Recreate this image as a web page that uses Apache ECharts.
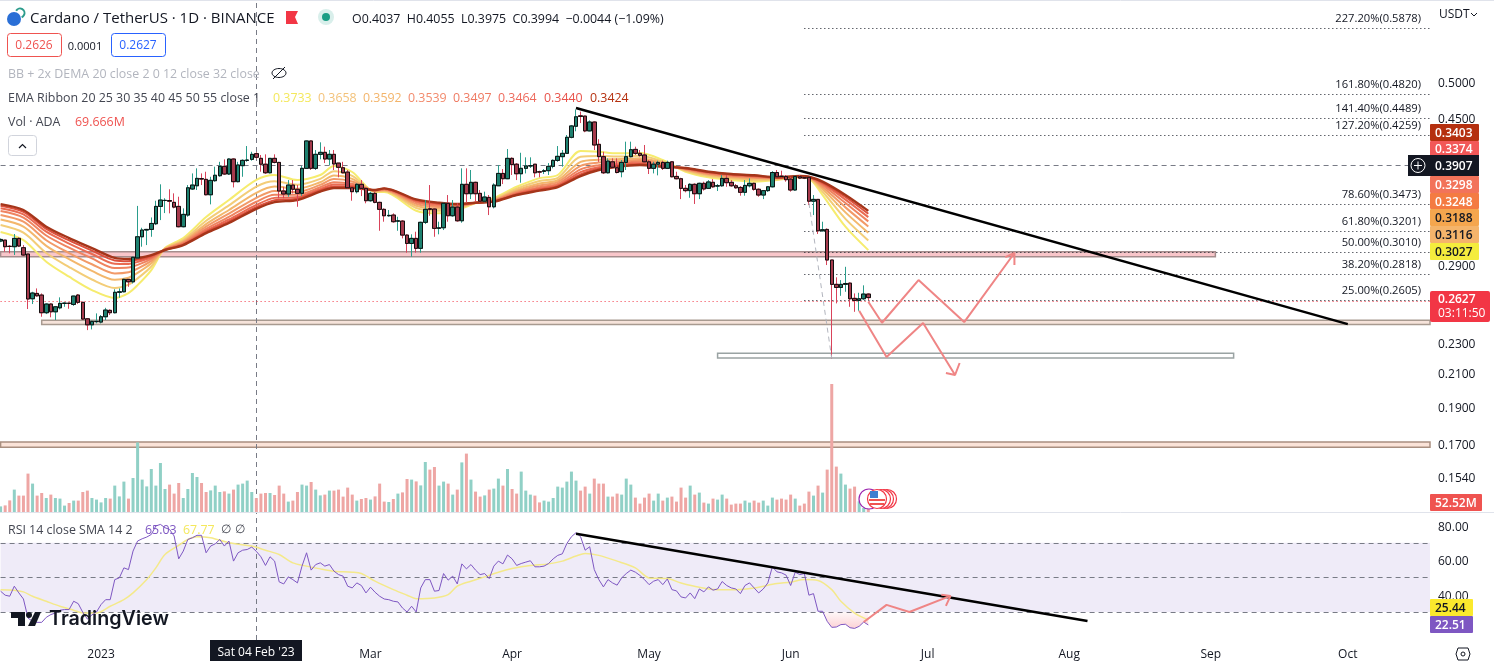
<!DOCTYPE html>
<html>
<head>
<meta charset="utf-8">
<title>Cardano / TetherUS</title>
<script src="https://cdn.jsdelivr.net/npm/echarts@6/dist/echarts.min.js"></script>
<style>
  html, body { margin: 0; padding: 0; background: #ffffff; }
  #main { width: 1494px; height: 661px; }
</style>
</head>
<body>
<div id="main"></div>
<script>
// daily candles, index 0 = 10 Dec 2022
const candleOpen = [
  .3110,.3119,.3062,.3058,.3135,.3049,.2992,.2618,.2660,.2647,
  .2511,.2577,.2518,.2548,.2582,.2584,.2574,.2647,.2590,.2466,
  .2422,.2445,.2442,.2481,.2529,.2511,.2669,.2673,.2774,.2754,
  .2957,.3150,.3214,.3220,.3275,.3449,.3510,.3510,.3491,.3449,
  .3246,.3361,.3633,.3668,.3748,.3739,.3571,.3724,.3780,.3887,
  .3799,.3973,.3713,.3895,.3957,.3969,.4037,.3981,.3912,.3813,
  .3981,.3933,.3611,.3579,.3676,.3630,.3586,.3864,.4193,.3864,
  .4029,.4053,.3973,.4029,.3925,.3871,.3821,.3646,.3604,.3684,
  .3640,.3508,.3586,.3491,.3419,.3354,.3361,.3300,.3301,.3166,
  .3088,.3135,.3043,.3289,.3425,.3422,.3230,.3236,.3481,.3354,
  .3442,.3304,.3684,.3582,.3706,.3586,.3503,.3543,.3445,.3668,
  .3806,.3746,.3981,.3912,.3802,.3864,.3891,.3912,.3825,.3829,
  .3837,.3887,.3957,.4001,.4041,.4239,.4381,.4520,.4516,.4321,
  .4437,.4151,.4001,.3813,.3940,.3871,.3825,.3933,.4001,.4089,
  .4041,.4021,.3940,.3864,.3912,.3933,.3864,.3940,.3772,.3746,
  .3640,.3615,.3684,.3582,.3695,.3640,.3706,.3665,.3668,.3750,
  .3706,.3668,.3650,.3597,.3668,.3695,.3630,.3568,.3615,.3657,
  .3816,.3775,.3772,.3742,.3622,.3768,.3757,.3762,.3503,.3522,
  .3207,.3220,.2939,.2733,.2708,.2733,.2743,.2621,.2605,.2618,
  .2655
];
const candleClose = [
  .3125,.3058,.3060,.3135,.3064,.2983,.2616,.2663,.2641,.2511,
  .2577,.2518,.2556,.2582,.2584,.2582,.2639,.2590,.2464,.2422,
  .2447,.2447,.2481,.2531,.2511,.2669,.2673,.2774,.2754,.2963,
  .3150,.3214,.3220,.3278,.3449,.3515,.3512,.3503,.3442,.3246,
  .3368,.3646,.3676,.3750,.3742,.3571,.3728,.3785,.3887,.3799,
  .3973,.3713,.3903,.3957,.3961,.4029,.3994,.3912,.3813,.3981,
  .3933,.3611,.3579,.3676,.3630,.3586,.3864,.4193,.3864,.4029,
  .4053,.3973,.4029,.3915,.3876,.3813,.3646,.3604,.3684,.3640,
  .3508,.3586,.3491,.3419,.3354,.3358,.3295,.3304,.3166,.3088,
  .3135,.3043,.3289,.3419,.3419,.3230,.3236,.3481,.3354,.3442,
  .3304,.3684,.3582,.3706,.3582,.3503,.3547,.3445,.3676,.3806,
  .3746,.3981,.3907,.3802,.3864,.3891,.3895,.3813,.3821,.3837,
  .3887,.3957,.4005,.4041,.4239,.4385,.4507,.4511,.4321,.4437,
  .4143,.4001,.3813,.3949,.3876,.3816,.3933,.4001,.4085,.4041,
  .4017,.3940,.3864,.3912,.3933,.3864,.3933,.3768,.3746,.3640,
  .3615,.3684,.3582,.3695,.3633,.3710,.3657,.3668,.3750,.3702,
  .3668,.3646,.3597,.3672,.3695,.3630,.3568,.3615,.3657,.3816,
  .3768,.3772,.3735,.3622,.3772,.3753,.3753,.3503,.3522,.3207,
  .3217,.2939,.2733,.2708,.2733,.2740,.2618,.2605,.2618,.2655,
  .2627
];
const candleLow = [
  .3100,.3013,.2998,.2983,.3055,.2974,.2539,.2577,.2634,.2481,
  .2501,.2477,.2457,.2536,.2556,.2541,.2563,.2577,.2457,.2384,
  .2389,.2433,.2432,.2457,.2494,.2506,.2626,.2669,.2713,.2740,
  .2954,.3058,.3073,.3150,.3262,.3311,.3381,.3378,.3429,.3240,
  .3240,.3344,.3622,.3622,.3676,.3565,.3470,.3713,.3768,.3788,
  .3788,.3650,.3706,.3768,.3940,.3953,.3975,.3825,.3799,.3806,
  .3921,.3534,.3534,.3550,.3586,.3445,.3560,.3860,.3845,.3845,
  .3969,.3925,.3903,.3845,.3762,.3806,.3640,.3508,.3586,.3557,
  .3481,.3498,.3481,.3207,.3295,.3344,.3285,.3207,.3135,.3004,
  .2968,.3004,.3004,.3272,.3354,.3150,.3173,.3214,.3295,.3344,
  .3295,.3285,.3487,.3525,.3498,.3491,.3491,.3361,.3429,.3665,
  .3687,.3742,.3788,.3731,.3702,.3806,.3868,.3762,.3762,.3799,
  .3788,.3864,.3940,.3883,.4033,.4226,.4316,.4423,.4304,.4316,
  .4081,.3940,.3799,.3806,.3864,.3806,.3762,.3845,.3993,.4021,
  .4001,.3933,.3799,.3806,.3784,.3845,.3856,.3762,.3739,.3525,
  .3597,.3539,.3474,.3525,.3615,.3633,.3646,.3611,.3657,.3657,
  .3657,.3636,.3561,.3561,.3650,.3615,.3550,.3525,.3601,.3650,
  .3762,.3762,.3713,.3604,.3615,.3742,.3742,.3463,.3361,.3176,
  .3200,.2895,.2191,.2582,.2641,.2673,.2556,.2518,.2526,.2608,
  .2608
];
const candleHigh = [
  .3135,.3119,.3073,.3176,.3145,.3073,.2992,.2673,.2700,.2660,
  .2582,.2582,.2561,.2629,.2590,.2586,.2641,.2655,.2595,.2470,
  .2452,.2506,.2494,.2548,.2536,.2693,.2700,.2779,.2777,.2968,
  .3454,.3236,.3225,.3337,.3508,.3684,.3534,.3630,.3586,.3550,
  .3429,.3676,.3806,.3864,.3806,.3825,.3768,.3883,.3940,.3969,
  .3981,.3981,.3940,.3969,.4130,.4060,.4055,.4021,.4029,.3985,
  .4029,.3940,.3657,.3731,.3731,.3676,.3891,.4198,.4198,.4081,
  .4176,.4122,.4081,.4081,.3925,.3940,.3845,.3657,.3695,.3731,
  .3646,.3604,.3604,.3498,.3429,.3412,.3378,.3344,.3311,.3173,
  .3173,.3198,.3295,.3515,.3676,.3429,.3295,.3487,.3568,.3515,
  .3481,.3864,.3864,.3845,.3713,.3622,.3604,.3568,.3695,.3903,
  .3856,.4093,.3993,.3925,.4048,.3993,.3993,.3912,.3837,.3856,
  .3925,.3969,.4130,.4081,.4268,.4398,.4607,.4577,.4520,.4459,
  .4445,.4215,.4060,.3981,.3981,.3981,.3961,.4184,.4184,.4122,
  .4081,.4143,.3961,.3940,.3953,.3953,.3953,.3949,.3825,.3757,
  .3676,.3695,.3695,.3702,.3713,.3731,.3742,.3687,.3788,.3788,
  .3731,.3687,.3665,.3731,.3750,.3702,.3640,.3622,.3665,.3832,
  .3845,.3837,.3788,.3768,.3780,.3788,.3768,.3762,.3568,.3525,
  .3295,.3230,.2939,.2791,.2768,.2880,.2748,.2660,.2665,.2725,
  .2660
];
// volume in millions
const volumes = [
  28,33,58,112,82,82,192,142,82,95,
  70,87,70,67,32,45,57,57,100,107,
  70,62,48,70,67,132,78,152,67,170,
  348,162,128,215,132,245,115,137,92,145,
  70,115,195,175,145,100,108,132,100,103,
  92,112,137,142,157,100,69.67,92,95,95,
  85,132,92,52,57,100,137,132,150,112,
  83,87,107,107,112,77,122,87,57,65,
  70,62,78,142,52,50,65,92,98,165,
  162,153,133,250,212,225,132,152,142,
  87,112,248,292,162,102,77,83,112,117,
  167,132,215,115,92,202,107,87,82,48,
  57,52,70,127,122,152,202,157,107,127,
  92,167,142,142,77,77,92,87,167,137,
  72,42,72,92,57,92,57,72,77,52,
  122,72,132,87,97,47,42,67,62,87,
  67,37,42,42,57,47,57,47,57,32,
  72,62,67,62,87,67,32,42,102,82,
  132,97,212,640,227,192,137,117,127,53,
  20,52.52
];
const rsiValues = [
  42.0,39.7,39.1,44.9,41.0,37.5,26.5,24.6,24.0,24.0,
  26.9,28.5,29.4,31.0,31.4,31.4,36.2,34.8,29.8,25.9,
  28.3,30.0,34.3,37.1,37.1,48.7,49.7,55.5,54.5,65.2,
  71.0,72.3,73.3,74.8,79.7,80.6,78.7,77.7,73.9,60.7,
  65.2,71.9,72.9,74.3,74.3,64.2,68.1,69.4,71.9,68.1,
  71.0,59.4,64.2,65.7,66.1,67.5,65.03,61.9,56.9,61.9,
  59.4,47.4,46.2,50.3,48.7,46.8,56.5,64.2,54.2,57.4,
  58.4,56.5,57.4,53.6,51.6,50.7,44.9,43.9,46.8,45.3,
  41.0,44.3,41.4,39.1,37.5,37.1,36.2,35.8,32.3,30.0,
  33.3,30.0,43.9,48.7,48.7,42.0,42.4,52.2,48.4,50.7,
  46.2,57.8,54.9,57.4,54.2,51.6,52.2,49.3,56.5,59.4,
  57.8,62.9,60.7,56.9,58.0,58.8,59.6,56.1,56.1,56.5,
  58.0,60.7,62.7,63.6,69.6,73.5,75.8,73.5,65.7,67.7,
  54.5,48.7,44.5,48.7,46.8,45.5,49.7,52.2,54.2,53.0,
  51.1,48.7,45.8,47.8,48.7,45.8,49.1,42.9,42.2,38.7,
  38.1,41.0,37.7,43.3,41.6,44.5,42.6,43.3,47.6,45.3,
  43.9,43.3,40.6,45.3,46.8,43.9,41.0,43.3,46.8,56.1,
  53.2,52.6,51.3,45.3,53.0,51.6,52.2,39.7,40.6,30.4,
  30.4,24.6,21.1,21.3,22.7,22.9,20.9,20.5,21.7,24.2,
  22.51
];
// RSI moving average, read at these bars only
const rsiMaIdx = [0,3,5,7,10,13,16,18,21,24,27,29,32,34,36,39,41,43,46,50,55,58,61,64,67,70,73,77,79,82,86,89,91,95,98,100,103,106,109,112,116,120,123,126,128,131,135,139,142,146,149,153,157,161,165,170,173,176,179,182,184,187,190];
const rsiMaVal = [42.9,42.6,41.6,39.1,36.2,33.3,31,29.4,29.4,33.3,37.1,41,48.7,55.5,63.2,68.5,71.9,73.5,72.9,70,68.1,65.7,63.2,58.4,56.5,54.9,53.6,53,52.2,47.8,42.9,39.7,37.7,38.1,40,44.9,47.8,50.3,53,55.1,56.9,57.8,59.4,62.3,63.8,62.7,59.4,55.5,49.7,49.3,46.8,44.3,42.9,42.9,43.9,46.4,47.2,48.7,48.2,42.9,36.2,29.4,25.44];

// EMA ribbon, read at these bars only
const emaIdx = [0,5,10,15,20,25,28,30,33,36,40,45,50,56,60,65,70,73,77,82,84,91,96,100,104,108,113,118,122,127,131,135,140,145,150,155,160,165,170,175,177,180,185,190];
const ema20 = [.3195,.3119,.2924,.2796,.2687,.2624,.2663,.2727,.2852,.3046,.3138,.3341,.3515,.3733,.3788,.3731,.3788,.3891,.3822,.3601,.3601,.3405,.3378,.3412,.3484,.3536,.3657,.3753,.3788,.4069,.4060,.4041,.4045,.3961,.3825,.3762,.3731,.3713,.3731,.3762,.3750,.3568,.3246,.3027];
const ema25 = [.3262,.3189,.3001,.2878,.2773,.2704,.2731,.2782,.2883,.3042,.3122,.3304,.3459,.3658,.3717,.3679,.3744,.3832,.3779,.3606,.3610,.3433,.3404,.3427,.3485,.3527,.3636,.3720,.3756,.3999,.4008,.4003,.4011,.3942,.3835,.3777,.3747,.3730,.3738,.3765,.3754,.3603,.3323,.3116];
const ema30 = [.3317,.3248,.3066,.2946,.2845,.2771,.2788,.2828,.2910,.3038,.3109,.3272,.3412,.3592,.3659,.3636,.3707,.3782,.3744,.3610,.3618,.3456,.3426,.3439,.3485,.3519,.3618,.3692,.3729,.3940,.3965,.3971,.3983,.3927,.3844,.3790,.3761,.3745,.3745,.3768,.3758,.3632,.3388,.3188];
const ema35 = [.3362,.3295,.3118,.3001,.2902,.2824,.2834,.2865,.2931,.3035,.3099,.3247,.3375,.3539,.3612,.3601,.3678,.3743,.3715,.3614,.3624,.3475,.3443,.3449,.3486,.3513,.3604,.3670,.3708,.3893,.3931,.3946,.3960,.3914,.3851,.3800,.3772,.3756,.3750,.3770,.3761,.3655,.3439,.3248];
const ema40 = [.3401,.3336,.3162,.3049,.2953,.2870,.2874,.2897,.2949,.3033,.3090,.3226,.3343,.3497,.3570,.3571,.3652,.3708,.3690,.3617,.3630,.3492,.3459,.3458,.3486,.3508,.3591,.3651,.3689,.3852,.3901,.3924,.3940,.3903,.3857,.3809,.3781,.3766,.3754,.3772,.3763,.3675,.3484,.3298];
const ema45 = [.3431,.3368,.3198,.3087,.2992,.2907,.2905,.2923,.2963,.3031,.3083,.3208,.3317,.3464,.3538,.3547,.3632,.3681,.3671,.3619,.3634,.3504,.3471,.3465,.3487,.3504,.3581,.3636,.3674,.3820,.3877,.3907,.3924,.3895,.3862,.3816,.3789,.3774,.3757,.3774,.3765,.3691,.3520,.3340];
const ema50 = [.3455,.3393,.3225,.3116,.3023,.2935,.2929,.2942,.2974,.3029,.3077,.3195,.3297,.3440,.3513,.3529,.3616,.3660,.3656,.3621,.3637,.3514,.3480,.3470,.3487,.3500,.3574,.3624,.3663,.3795,.3859,.3893,.3912,.3888,.3865,.3821,.3795,.3780,.3760,.3775,.3767,.3704,.3547,.3374];
const ema55 = [.3473,.3412,.3246,.3138,.3046,.2957,.2948,.2957,.2983,.3028,.3073,.3185,.3282,.3424,.3494,.3515,.3604,.3644,.3644,.3622,.3640,.3522,.3487,.3474,.3487,.3498,.3568,.3615,.3654,.3776,.3845,.3883,.3903,.3883,.3868,.3825,.3799,.3785,.3762,.3776,.3768,.3713,.3568,.3403];
const emaColors = ['#f6ec6e','#f3cd78','#f3b76c','#f29a68','#ef8460','#ea6b52','#dc4f3c','#a5351a'];

const fibLevels = [.5878,.4820,.4489,.4259,.3473,.3201,.3010,.2818,.2605];
const fibNames = ['227.20%','161.80%','141.40%','127.20%','78.60%','61.80%','50.00%','38.20%','25.00%'];
const priceTicks = [.5,.45,.29,.23,.21,.19,.17,.154];
const rsiTicks = [40,60,80];
const monthLabels = {'2023-01-01':'2023','2023-03-01':'Mar','2023-04-01':'Apr','2023-05-01':'May','2023-06-01':'Jun','2023-07-01':'Jul','2023-08-01':'Aug','2023-09-01':'Sep','2023-10-01':'Oct'};

const trendPrice = [[126,.4627],[295,.2427]];
const trendRsi = [[126,75.2],[238,24.8]];
const fibDiagonal = [[177,.3484],[182,.2191]];
const zigzagUp = [[190,.2595],[193,.2437],[201,.2768],[211,.2442],[222,.3001],[220,.2965],[222,.3001],[222,.2895]];
const zigzagDown = [[188,.2526],[194,.2200],[202,.2435],[209,.2085],[207,.2097],[209,.2085],[210,.2161]];
const zigzagRsi = [[189,24.2],[194,34.1],[199,30],[208,39.3],[206,39.9],[208,39.3],[207,33.5]];

const dayMs = 86400000;
const categories = [];
for (let i = 0; i < 314; i++) {
  categories.push(new Date(Date.UTC(2022, 11, 10) + i * dayMs).toISOString().slice(0, 10));
}
const lastBar = categories.length - 1;

const FONT = '"Open Sans", sans-serif';
const TEXT = '#131722';

function txt(x, y, s, fill, size, align, weight) {
  return {type: 'text', x: x, y: y + 1.5, z: 100, silent: true, style: {
    text: s, fill: fill, font: (weight || 'normal') + ' ' + size + 'px ' + FONT,
    align: align || 'left', verticalAlign: 'middle'
  }};
}
function tag(x, y, w, h, bg, s, fill) {
  return [
    {type: 'rect', z: 99, silent: true, shape: {x: x, y: y, width: w, height: h, r: 1}, style: {fill: bg}},
    txt(x + 5, y + h / 2, s, fill, 12, 'left', '600')
  ];
}
function box(x, y, w, h, stroke, s, fill) {
  return [
    {type: 'rect', z: 99, silent: true, shape: {x: x + .5, y: y + .5, width: w, height: h, r: 3}, style: {fill: '#fff', stroke: stroke, lineWidth: 1}},
    txt(x + w / 2, y + h / 2, s, fill, 12, 'center')
  ];
}

const graphicItems = [
  {type: 'line', z: 98, silent: true, shape: {x1: 0, y1: 512.5, x2: 1494, y2: 512.5}, style: {stroke: '#e0e3eb', lineWidth: 1}},
  {type: 'line', z: 98, silent: true, shape: {x1: 0, y1: 0.5, x2: 1494, y2: 0.5}, style: {stroke: '#e0e3eb', lineWidth: 1}},
  // symbol icon
  {type: 'circle', z: 99, silent: true, shape: {cx: 14, cy: 19, r: 7}, style: {fill: '#2a6fd6'}},
  {type: 'arc', z: 99, silent: true, shape: {cx: 20, cy: 13, r: 4.5, startAngle: -2.6, endAngle: 1.2}, style: {stroke: '#2c9c8c', lineWidth: 2, fill: 'none'}},
  txt(30, 17, 'Cardano / TetherUS · 1D · BINANCE', TEXT, 15),
  {type: 'polygon', z: 99, silent: true, shape: {points: [[286,11],[298,11],[295,17],[298,24],[286,24]]}, style: {fill: '#f23645'}},
  {type: 'circle', z: 99, silent: true, shape: {cx: 326, cy: 17, r: 8}, style: {fill: '#d9efeb'}},
  {type: 'circle', z: 99, silent: true, shape: {cx: 326, cy: 17, r: 4}, style: {fill: '#1b9e85'}},
  txt(352, 17.5, 'O0.4037  H0.4055  L0.3975  C0.3994  −0.0044 (−1.09%)', TEXT, 12.4),
  ...box(7, 33, 54, 23, '#ef5350', '0.2626', '#ef5350'),
  txt(85, 45, '0.0001', TEXT, 11, 'center'),
  ...box(111, 33, 54, 23, '#2962ff', '0.2627', '#2962ff'),
  txt(8, 72.5, 'BB + 2x DEMA 20 close 2 0 12 close 32 close', '#b2b5be', 12.4),
  // hidden-study eye
  {type: 'ellipse', z: 99, silent: true, shape: {cx: 279, cy: 73, rx: 7, ry: 4.5}, style: {fill: 'none', stroke: '#131722', lineWidth: 1}},
  {type: 'line', z: 99, silent: true, shape: {x1: 273, y1: 79, x2: 285, y2: 67}, style: {stroke: '#131722', lineWidth: 1}},
  txt(8, 96.5, 'EMA Ribbon 20 25 30 35 40 45 50 55 close 1', '#434651', 12.4),
  txt(273, 96.5, '0.3733', '#f4e85c', 12.4),
  txt(318, 96.5, '0.3658', '#f3c27a', 12.4),
  txt(363, 96.5, '0.3592', '#f3b46a', 12.4),
  txt(408, 96.5, '0.3539', '#f28a6c', 12.4),
  txt(453, 96.5, '0.3497', '#ef7a62', 12.4),
  txt(498, 96.5, '0.3464', '#ee6a5c', 12.4),
  txt(544, 96.5, '0.3440', '#e8524a', 12.4),
  txt(590, 96.5, '0.3424', '#b5300f', 12.4),
  txt(8, 120.5, 'Vol · ADA', '#434651', 12.4),
  txt(75, 120.5, '69.666M', '#ef5350', 12.4),
  {type: 'rect', z: 99, silent: true, shape: {x: 8.5, y: 135.5, width: 28, height: 20, r: 3}, style: {fill: '#fff', stroke: '#d1d4dc', lineWidth: 1}},
  {type: 'polyline', z: 99, silent: true, shape: {points: [[19,148],[22.5,144.5],[26,148]]}, style: {fill: 'none', stroke: TEXT, lineWidth: 1.2}},
  txt(8, 528.5, 'RSI 14 close SMA 14 2', '#434651', 12.4),
  txt(145, 528.5, '65.03', '#7e57c2', 12.4),
  txt(183, 528.5, '67.77', '#f4e85c', 12.4),
  txt(221, 528.5, '∅', '#434651', 12),
  txt(235, 528.5, '∅', '#434651', 12),
  // watermark
  {type: 'polygon', z: 99, silent: true, shape: {points: [[11,612],[25,612],[25,626],[18,626],[18,618],[11,618]]}, style: {fill: TEXT}},
  {type: 'circle', z: 99, silent: true, shape: {cx: 29, cy: 615, r: 3}, style: {fill: TEXT}},
  {type: 'polygon', z: 99, silent: true, shape: {points: [[35,612],[41,612],[35,626],[28,626]]}, style: {fill: TEXT}},
  {type: 'text', z: 100, silent: true, x: 49, y: 619, style: {text: 'TradingView', fill: TEXT, font: '600 19.7px Inter, sans-serif', align: 'left', verticalAlign: 'middle'}},
  // event icons on the volume pane
  {type: 'circle', z: 99, silent: true, shape: {cx: 869, cy: 499, r: 10}, style: {fill: '#fff', stroke: '#9c27b0', lineWidth: 1.2}},
  {type: 'circle', z: 99, silent: true, shape: {cx: 887, cy: 499, r: 9.5}, style: {fill: '#fff', stroke: '#f23645', lineWidth: 1.2}},
  {type: 'circle', z: 99, silent: true, shape: {cx: 884, cy: 499, r: 9.5}, style: {fill: '#fff', stroke: '#f23645', lineWidth: 1.2}},
  {type: 'circle', z: 99, silent: true, shape: {cx: 881, cy: 499, r: 9.5}, style: {fill: '#fff', stroke: '#f23645', lineWidth: 1.2}},
  {type: 'circle', z: 99, silent: true, shape: {cx: 877, cy: 499, r: 9.5}, style: {fill: '#fff', stroke: '#f23645', lineWidth: 1.2}},
  {type: 'line', z: 99, silent: true, shape: {x1: 869, y1: 500, x2: 885, y2: 500}, style: {stroke: '#ef5350', lineWidth: 2}},
  {type: 'line', z: 99, silent: true, shape: {x1: 870, y1: 504, x2: 884, y2: 504}, style: {stroke: '#ef5350', lineWidth: 2}},
  {type: 'rect', z: 99, silent: true, shape: {x: 870, y: 491, width: 8, height: 7}, style: {fill: '#3f7fd0'}},
  // price axis tags
  txt(1439, 13, 'USDT', TEXT, 12),
  {type: 'polyline', z: 99, silent: true, shape: {points: [[1471,13],[1474,16],[1477,13]]}, style: {fill: 'none', stroke: TEXT, lineWidth: 1}},
  ...tag(1430, 124, 49, 17, '#b5300f', '0.3403', '#fff'),
  ...tag(1430, 141, 49, 15, '#f25858', '0.3374', '#fff'),
  ...tag(1430, 176, 49, 17, '#f2735a', '0.3298', '#fff'),
  ...tag(1430, 193, 49, 16, '#f47b42', '0.3248', '#fff'),
  ...tag(1430, 209, 49, 17, '#f5a64e', '0.3188', TEXT),
  ...tag(1430, 226, 49, 17, '#f5b46b', '0.3116', TEXT),
  ...tag(1430, 243, 49, 17, '#f4ec3d', '0.3027', TEXT),
  {type: 'rect', z: 99, silent: true, shape: {x: 1408, y: 155, width: 71, height: 21}, style: {fill: TEXT}},
  txt(1435, 165, '0.3907', '#fff', 12, 'left', '600'),
  {type: 'circle', z: 100, silent: true, shape: {cx: 1418, cy: 165.5, r: 7}, style: {fill: 'none', stroke: '#fff', lineWidth: 1}},
  {type: 'line', z: 100, silent: true, shape: {x1: 1414, y1: 165.5, x2: 1422, y2: 165.5}, style: {stroke: '#fff', lineWidth: 1}},
  {type: 'line', z: 100, silent: true, shape: {x1: 1418, y1: 161.5, x2: 1418, y2: 169.5}, style: {stroke: '#fff', lineWidth: 1}},
  {type: 'rect', z: 99, silent: true, shape: {x: 1430, y: 291, width: 60, height: 31, r: 2}, style: {fill: '#f23645'}},
  txt(1438, 298.5, '0.2627', '#fff', 12, 'left', '600'),
  txt(1438, 312.5, '03:11:50', '#fff', 12),
  ...tag(1430, 494, 52, 17, '#ef5350', '52.52M', '#fff'),
  ...tag(1430, 599, 43, 17, '#fbe92d', '25.44', TEXT),
  ...tag(1430, 616, 43, 17, '#7e57c2', '22.51', '#fff'),
  // time axis crosshair tag and settings
  {type: 'rect', z: 99, silent: true, shape: {x: 210, y: 640, width: 92, height: 21}, style: {fill: TEXT}},
  txt(256, 651, "Sat 04 Feb '23", '#fff', 12, 'center'),
  {type: 'polygon', z: 99, silent: true, shape: {points: [[1458,648],[1468,648],[1470,654],[1468,660],[1458,660],[1456,654]]}, style: {fill: 'none', stroke: TEXT, lineWidth: 1}},
  {type: 'circle', z: 99, silent: true, shape: {cx: 1463, cy: 654, r: 2}, style: {fill: 'none', stroke: TEXT, lineWidth: 1}}
];

const crossStyle = {type: [5, 4], color: '#787b86', width: 1};
const fibLines = fibLevels.map((v, k) => [
  {coord: [176, v], label: {show: true, position: 'insideEndTop', distance: [9, 4], formatter: fibNames[k] + '(' + v.toFixed(4) + ')', color: TEXT, fontSize: 11.2, fontFamily: FONT}},
  {coord: [lastBar, v]}
]);

function zone(i0, i1, p0, p1, fill, stroke) {
  return [
    {coord: [i0, p0], itemStyle: {color: fill, borderColor: stroke, borderWidth: 1.5}},
    {coord: [i1, p1]}
  ];
}

function pts(values) {
  return values.map((v, k) => [emaIdx[k], v]);
}

function overlay(points, color, width, dash) {
  return {
    type: 'line', data: points, showSymbol: false, silent: true, z: 6,
    lineStyle: {color: color, width: width, type: dash || 'solid'}, animation: false
  };
}

const emaSeries = [ema20, ema25, ema30, ema35, ema40, ema45, ema50, ema55].map((arr, k) => ({
  type: 'line', data: pts(arr), showSymbol: false, silent: true, smooth: 0.3, z: 2,
  lineStyle: {color: emaColors[k], width: k === 7 ? 2.4 : 2}
}));

const gridX = {left: 0.6, right: 64};
const axisText = {color: TEXT, fontSize: 12, fontFamily: FONT, padding: [4, 0, 0, 0]};

const option = {
  animation: false,
  backgroundColor: '#ffffff',
  textStyle: {fontFamily: FONT},
  graphic: {elements: graphicItems},
  grid: [
    {...gridX, top: 0, height: 512},
    {...gridX, top: 382, height: 130},
    {...gridX, top: 513, height: 127}
  ],
  xAxis: [
    {type: 'category', gridIndex: 0, data: categories, boundaryGap: false, show: false},
    {type: 'category', gridIndex: 1, data: categories, boundaryGap: false, show: false},
    {
      type: 'category', gridIndex: 2, data: categories, boundaryGap: false,
      axisLine: {show: false}, axisTick: {show: false},
      axisLabel: {
        color: '#131722', fontSize: 12, fontFamily: FONT, margin: 9,
        interval: (i, v) => monthLabels[v] !== undefined,
        formatter: v => monthLabels[v]
      }
    }
  ],
  yAxis: [
    {
      type: 'log', logBase: 10, gridIndex: 0, position: 'right', min: .13852, max: .63867,
      axisLine: {show: false}, axisTick: {show: false}, splitLine: {show: false},
      axisLabel: {customValues: priceTicks, margin: 8, formatter: v => '{a|' + v.toFixed(4) + '}', rich: {a: axisText}}
    },
    {type: 'value', gridIndex: 1, min: 0, max: 650, show: false, splitLine: {show: false}},
    {
      type: 'value', gridIndex: 2, position: 'right', min: 13.8, max: 87.2,
      axisLine: {show: false}, axisTick: {show: false}, splitLine: {show: false},
      axisLabel: {customValues: rsiTicks, margin: 8, formatter: v => '{a|' + v.toFixed(2) + '}', rich: {a: axisText}}
    }
  ],
  series: [
    // zones, fib levels and crosshair on the price pane
    {
      type: 'line', xAxisIndex: 0, yAxisIndex: 0, data: [], silent: true, z: 1,
      markArea: {
        silent: true, z: 1,
        data: [
          zone(0, 266, .3013, .2968, '#f9c6ca', '#a58d8d'),
          zone(9, lastBar, .2455, .2425, '#f6e3da', '#a89a90'),
          zone(157, 270, .2225, .2193, '#ffffff', '#9aa3a3'),
          zone(0, lastBar, .1707, .1680, '#fbe3d8', '#a98f80')
        ]
      },
      markLine: {
        silent: true, symbol: 'none', z: 1, label: {show: false},
        data: [
          {yAxis: .3907, lineStyle: crossStyle},
          {xAxis: 56, lineStyle: crossStyle},
          {yAxis: .2627, lineStyle: {type: [1, 3], color: '#f23645', width: 1}},
          ...fibLines
        ],
        lineStyle: {type: [1, 3], color: '#131722', width: 1}
      }
    },
    ...emaSeries,
    // wicks in the candle colour, bodies with a black outline on top
    {
      type: 'candlestick', xAxisIndex: 0, yAxisIndex: 0, barWidth: 4, silent: true, z: 3,
      itemStyle: {color: '#2a9d8c', color0: '#d9435a', borderColor: '#2a9d8c', borderColor0: '#d9435a', borderWidth: 1},
      data: candleOpen.map((o, i) => [o, candleClose[i], candleLow[i], candleHigh[i]])
    },
    {
      type: 'candlestick', xAxisIndex: 0, yAxisIndex: 0, barWidth: 4, silent: true, z: 4,
      itemStyle: {color: '#1d8170', color0: '#a63a4c', borderColor: '#101010', borderColor0: '#101010', borderWidth: 1},
      data: candleOpen.map((o, i) => [o, candleClose[i], Math.min(o, candleClose[i]), Math.max(o, candleClose[i])])
    },
    {...overlay(fibDiagonal, '#b2b5be', 1, [5, 4]), xAxisIndex: 0, yAxisIndex: 0},
    {...overlay(trendPrice, '#000000', 2.5), xAxisIndex: 0, yAxisIndex: 0},
    {...overlay(zigzagUp, '#ef8585', 2), xAxisIndex: 0, yAxisIndex: 0},
    {...overlay(zigzagDown, '#ef8585', 2), xAxisIndex: 0, yAxisIndex: 0},
    // volume
    {
      type: 'bar', xAxisIndex: 1, yAxisIndex: 1, barWidth: 3, silent: true, z: 3,
      data: volumes.map((v, i) => ({value: v, itemStyle: {color: candleClose[i] >= candleOpen[i] ? '#90d0c6' : '#eea6a4'}}))
    },
    // RSI
    {
      type: 'line', xAxisIndex: 2, yAxisIndex: 2, data: [], silent: true, z: 1,
      markArea: {silent: true, z: 1, data: [[{coord: [0, 70], itemStyle: {color: '#efebf8'}}, {coord: [lastBar, 30]}]]},
      markLine: {
        silent: true, symbol: 'none', z: 2, label: {show: false},
        lineStyle: {type: [5, 4], color: '#787b86', width: 1},
        data: [{yAxis: 70}, {yAxis: 50}, {yAxis: 30}, {xAxis: 56}]
      }
    },
    {
      type: 'line', xAxisIndex: 2, yAxisIndex: 2, showSymbol: false, silent: true, z: 2,
      lineStyle: {width: 0},
      areaStyle: {
        origin: 30,
        color: {type: 'linear', x: 0, y: 0, x2: 0, y2: 1, colorStops: [{offset: 0, color: 'rgba(242,54,69,0.05)'}, {offset: 1, color: 'rgba(242,54,69,0.32)'}]}
      },
      data: rsiValues.map((v, i) => [i, Math.min(v, 30)]).slice(179)
    },
    {
      type: 'line', xAxisIndex: 2, yAxisIndex: 2, showSymbol: false, silent: true, smooth: 0.3, z: 3,
      lineStyle: {color: '#f4e98a', width: 1.5},
      data: rsiMaIdx.map((x, k) => [x, rsiMaVal[k]])
    },
    {
      type: 'line', xAxisIndex: 2, yAxisIndex: 2, showSymbol: false, silent: true, z: 4,
      lineStyle: {color: '#7e57c2', width: 1},
      data: rsiValues.map((v, i) => [i, v])
    },
    {...overlay(trendRsi, '#000000', 2.5), xAxisIndex: 2, yAxisIndex: 2},
    {...overlay(zigzagRsi, '#ef8585', 2), xAxisIndex: 2, yAxisIndex: 2}
  ]
};

const chartDom = document.getElementById('main');
const myChart = echarts.init(chartDom);
myChart.setOption(option);
</script>
</body>
</html>
